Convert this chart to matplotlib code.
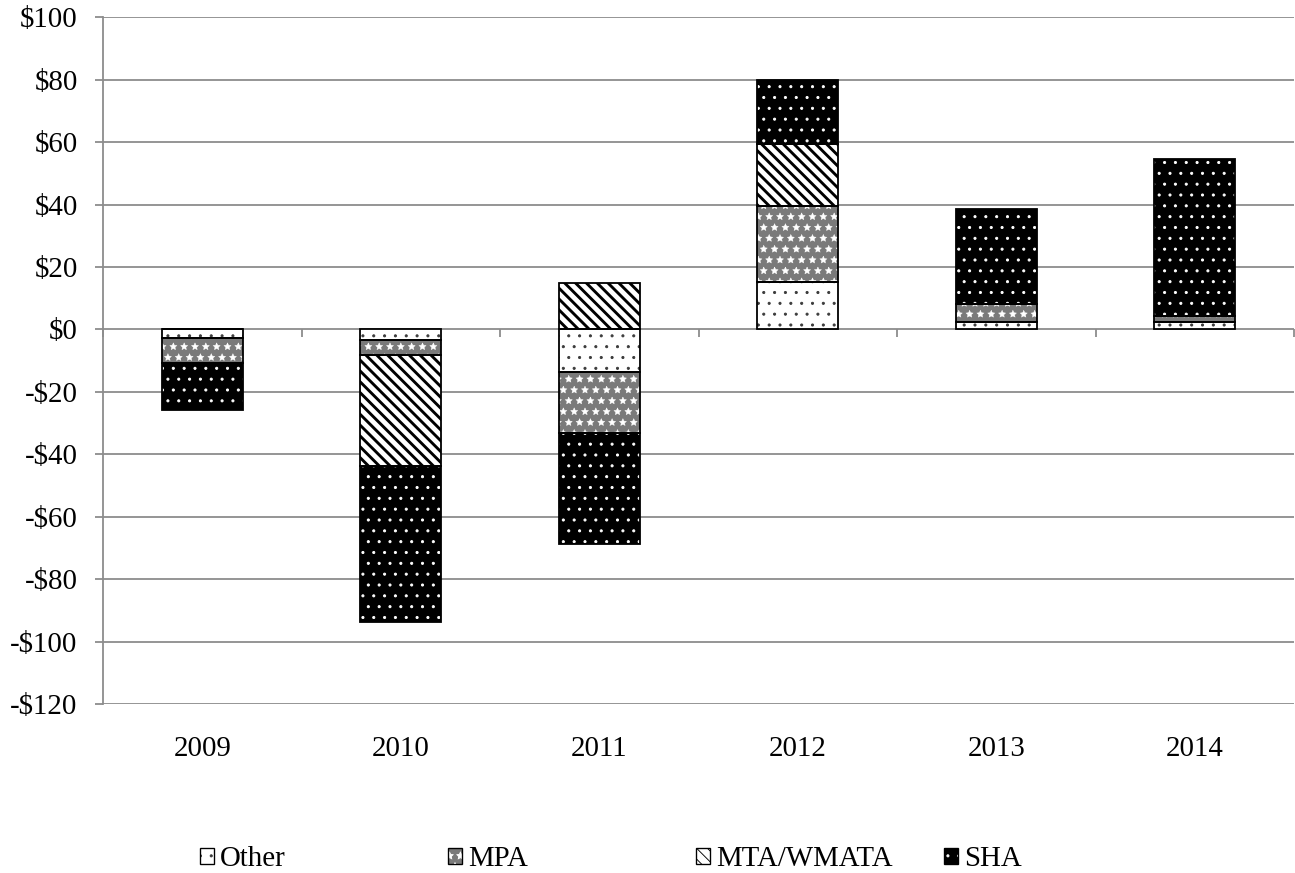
import numpy as np
import matplotlib
matplotlib.use("Agg")
import matplotlib.pyplot as plt
from matplotlib.patches import Patch
from matplotlib.legend_handler import HandlerTuple

DPI = 65
W, H = 1295, 873

plt.rcParams["font.family"] = ["Liberation Serif", "DejaVu Serif"]
plt.rcParams["font.size"] = 32

# Year-over-year change by agency ($ millions)
years = ["2009", "2010", "2011", "2012", "2013", "2014"]
other = [-2.9, -3.5, -13.5, 15.2, 2.4, 2.4]
mpa = [-7.7, -4.8, -19.8, 24.2, 5.6, 1.9]
mta_wmata = [0.0, -35.3, 15.0, 19.9, 0.0, 0.0]
sha = [-15.2, -50.0, -35.3, 20.5, 30.5, 50.3]

styles = {
    "Other": dict(face="white", hatch_color="#3a3a3a", hatch=".", hlw=1.0),
    "MPA": dict(face="#7a7a7a", hatch_color="white", hatch="*", hlw=0.5),
    "MTA/WMATA": dict(face="white", hatch_color="black", hatch="\\\\", hlw=3.2),
    "SHA": dict(face="black", hatch_color="white", hatch=".", hlw=1.0),
}
series = [("Other", other), ("MPA", mpa), ("MTA/WMATA", mta_wmata), ("SHA", sha)]


def px(x, y):
    return x / W, 1 - y / H


def hatched(st, **kw):
    p = Patch(facecolor=st["face"], hatch=st["hatch"], edgecolor=st["hatch_color"],
              linewidth=0, **kw)
    if hasattr(p, "set_hatch_linewidth"):
        p.set_hatch_linewidth(st["hlw"])
    return p


fig = plt.figure(figsize=(W / DPI, H / DPI), dpi=DPI)
left, top = px(103, 17.3)
right, bottom = px(1294, 704)
ax = fig.add_axes([left, bottom, right - left, top - bottom])

x = np.arange(len(years))
width = 0.41
pos_base = np.zeros(len(years))
neg_base = np.zeros(len(years))
handles = []
for name, vals in series:
    st = styles[name]
    vals = np.array(vals)
    bottoms = np.where(vals >= 0, pos_base, neg_base)
    plt.rcParams["hatch.linewidth"] = st["hlw"]
    bars = ax.bar(x, vals, width, bottom=bottoms, color=st["face"], hatch=st["hatch"],
                  edgecolor=st["hatch_color"], linewidth=0, zorder=3)
    for b in bars:
        if hasattr(b, "set_hatch_linewidth"):
            b.set_hatch_linewidth(st["hlw"])
    ax.bar(x, vals, width, bottom=bottoms, fill=False, edgecolor="black",
           linewidth=2, zorder=4)
    pos_base += np.where(vals >= 0, vals, 0)
    neg_base += np.where(vals < 0, vals, 0)
    outline = Patch(facecolor="none", edgecolor="black", linewidth=1.5)
    handles.append((hatched(st), outline))

ax.set_xlim(-0.5, len(years) - 0.5)
ax.set_ylim(-120, 100)
yt = np.arange(-120, 101, 20)
ax.set_yticks(yt)
ax.set_yticklabels([f"${v}" if v >= 0 else f"-${-v}" for v in yt])
ax.set_xticks(x)
ax.set_xticklabels(years)
ax.tick_params(axis="x", length=0, pad=36)
ax.tick_params(axis="y", length=9, width=2, color="#8c8c8c", direction="out", pad=19)
ax.grid(axis="y", color="#8c8c8c", linewidth=2, zorder=0)

for s in ["top", "right", "bottom"]:
    ax.spines[s].set_visible(False)
ax.spines["left"].set_color("#8c8c8c")
ax.spines["left"].set_linewidth(2)

# zero line carrying the category separator ticks
zero = ax.secondary_xaxis(120 / 220)
zero.set_xticks(np.arange(len(years) + 1) - 0.5)
zero.set_xticklabels([])
zero.tick_params(length=9, color="#8c8c8c", width=2, direction="in")
zero.spines["bottom"].set_color("#8c8c8c")
zero.spines["bottom"].set_linewidth(2)
zero.spines["top"].set_visible(False)

# one legend per entry, evenly spaced along the bottom
legend_x = [200, 448, 696, 944]
for (name, _), h, lx in zip(series, handles, legend_x):
    fig.legend(handles=[h], labels=[name], loc="center left",
               bbox_to_anchor=px(lx, 859), frameon=False, borderpad=0,
               borderaxespad=0, handlelength=0.5, handleheight=0.5,
               handletextpad=0.2, handler_map={tuple: HandlerTuple(ndivide=1)})

fig.savefig("out.png", dpi=DPI)
